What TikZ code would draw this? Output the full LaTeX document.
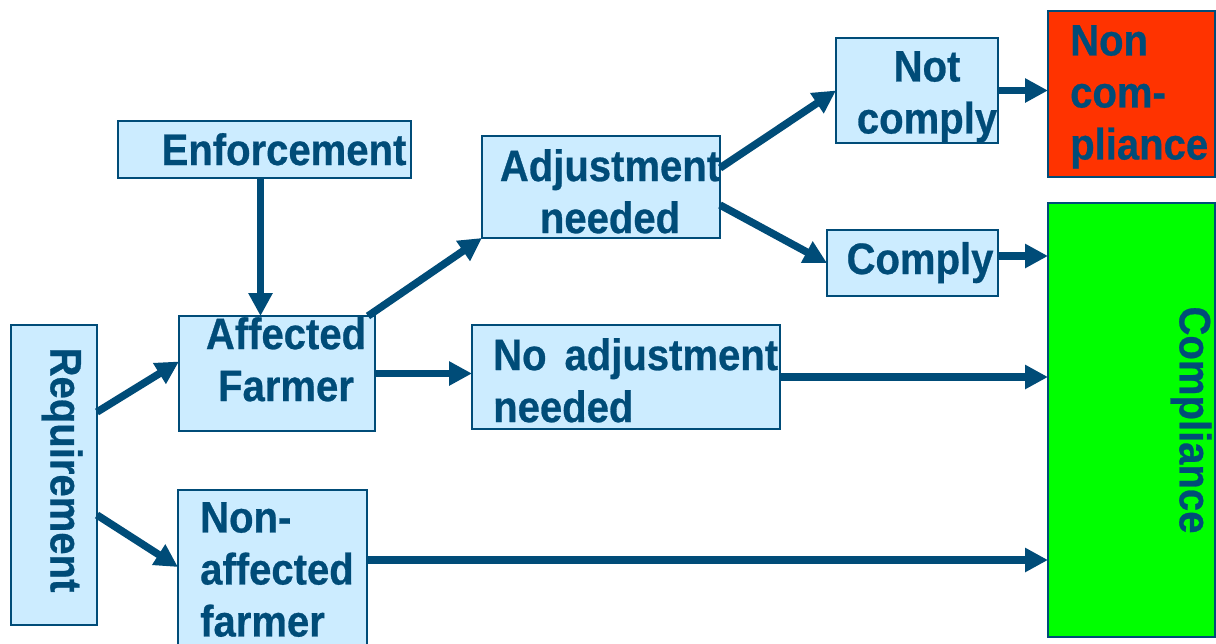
\documentclass[tikz,border=0pt]{standalone}
\usepackage{fontspec}
\setmainfont[FakeStretch=0.91,BoldFeatures={FakeBold=0.6}]{Liberation Sans}
\usetikzlibrary{arrows.meta}
\definecolor{dblue}{RGB}{0,76,120}
\definecolor{lblue}{RGB}{204,236,255}
\definecolor{ncred}{RGB}{255,51,0}
\definecolor{cgreen}{RGB}{0,255,0}
\tikzset{
  box/.style={draw=dblue, line width=1.8pt, fill=lblue, inner sep=0pt, outer sep=0pt, anchor=north west},
  txt/.style={text=dblue, inner sep=0pt, font=\fontsize{44}{52}\selectfont\bfseries},
  arr/.style={draw=dblue, line width=7.5pt, -{Triangle[length=23pt,width=23pt]}},
}
\begin{document}
\begin{tikzpicture}[x=1pt,y=-1pt]
\clip (0,0) rectangle (1216,643);
\fill[white] (0,0) rectangle (1216,643);
% boxes
\node[box, minimum width=86pt, minimum height=300pt] (req) at (11,325) {};
\node[box, minimum width=293pt, minimum height=57pt] (enf) at (118,121) {};
\node[box, minimum width=196pt, minimum height=115pt] (aff) at (179,316) {};
\node[box, minimum width=189pt, minimum height=170pt] (naf) at (178,490) {};
\node[box, minimum width=238pt, minimum height=102pt] (adj) at (482,136) {};
\node[box, minimum width=308pt, minimum height=104pt] (nadj) at (472,325) {};
\node[box, minimum width=162pt, minimum height=105pt] (notc) at (836,38) {};
\node[box, minimum width=171pt, minimum height=66pt] (comply) at (827,230) {};
\node[box, fill=ncred, minimum width=167pt, minimum height=166pt] (ncomp) at (1048,11) {};
\node[box, fill=cgreen, minimum width=167pt, minimum height=434pt] (comp) at (1048,203) {};
% texts
\node[txt, rotate=-90] (treq) at (62,470) {Requirement};
\node[txt, anchor=base] (tenf) at (284,165) {Enforcement};
\node[txt, anchor=north, align=center] (taff) at (286,317) {Affected\\Farmer};
\node[txt, anchor=north west, align=left] (tnaf) at (200,502) {Non-\\affected\\farmer};
\node[txt, anchor=north, align=center] (tadj) at (610,149) {Adjustment\\needed};
\node[txt, anchor=north west, align=left] (tnadj) at (493,338) {No\hspace{18pt}adjustment\\needed};
\node[txt, anchor=north, align=center] (tnotc) at (927,51) {Not\\comply};
\node[txt, anchor=base] (tcomply) at (920,274) {Comply};
\node[txt, anchor=north west, align=left] (tncomp) at (1070,25) {Non\\com-\\pliance};
\node[txt, rotate=-90] (tcomp) at (1191,420) {Compliance};
% connectors
\coordinate (r1) at ([yshift=63pt]req.east);
\coordinate (r2) at ([yshift=-40pt]req.east);
\coordinate (e1) at ([xshift=-4pt]enf.south);
\coordinate (a1) at ([xshift=-7pt]aff.north east);
\coordinate (d1) at ([yshift=19pt]adj.east);
\coordinate (d2) at ([yshift=-18pt]adj.east);
\coordinate (c1) at ([yshift=7pt]comply.east);
\coordinate (f1) at ([yshift=15pt]naf.east);
\draw[arr] (r1) -- ([yshift=12pt]aff.west);
\draw[arr] (r2) -- ([yshift=8pt]naf.west);
\draw[arr] (e1) -- (e1 |- aff.north);
\draw[arr] (a1) -- (adj.south west);
\draw[arr] (aff.east) -- (aff.east -| nadj.west);
\draw[arr] (d1) -- (notc.west);
\draw[arr] (d2) -- (comply.west);
\draw[arr] (notc.east) -- (notc.east -| ncomp.west);
\draw[arr] (c1) -- (c1 -| comp.west);
\draw[arr] (nadj.east) -- (nadj.east -| comp.west);
\draw[arr] (f1) -- (f1 -| comp.west);
\end{tikzpicture}
\end{document}
